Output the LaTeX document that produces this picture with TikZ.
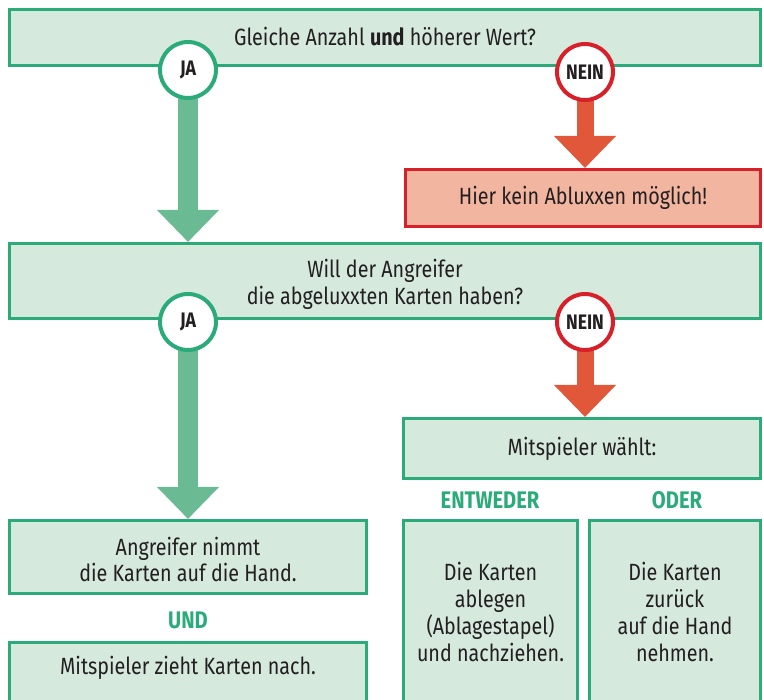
\documentclass[tikz,border=0pt]{standalone}
\usepackage{fontspec}
\setmainfont{Fira Sans}[FakeStretch=0.84]
\usetikzlibrary{arrows.meta}
\definecolor{boxfill}{HTML}{D5E9DD}
\definecolor{gborder}{HTML}{2BAA7A}
\definecolor{garrow}{HTML}{6ABB94}
\definecolor{rborder}{HTML}{D7202A}
\definecolor{rarrow}{HTML}{E0573A}
\definecolor{rfill}{HTML}{F2B5A0}
\definecolor{ink}{HTML}{231F20}
\begin{document}
\begin{tikzpicture}[x=1pt,y=-1pt,
  gbox/.style={draw=gborder,fill=boxfill,line width=3pt,inner sep=0pt,align=center,text=ink,font=\fontsize{23.5}{26.7}\selectfont},
  rbox/.style={draw=rborder,fill=rfill,line width=3pt,inner sep=0pt,align=center,text=ink,font=\fontsize{23.5}{26.7}\selectfont},
  txt/.style={align=center,text=ink,font=\fontsize{23.5}{26.7}\selectfont,inner sep=0pt},
  gcirc/.style={circle,draw=gborder,fill=white,line width=4pt,minimum size=56pt,inner sep=0pt,text=ink,font=\fontsize{21}{22}\selectfont\bfseries},
  rcirc/.style={circle,draw=rborder,fill=white,line width=4pt,minimum size=56pt,inner sep=0pt,text=ink,font=\fontsize{21}{22}\selectfont\bfseries},
  glabel/.style={text=gborder,font=\fontsize{24}{26}\selectfont\bfseries,inner sep=0pt},
  garr/.style={draw=garrow,line width=20pt,-{Triangle[width=60pt,length=32pt]}},
  rarr/.style={draw=rarrow,line width=17pt,-{Triangle[width=60pt,length=32pt]}}
]
\useasboundingbox (0,0) rectangle (764,700);
\clip (0,0) rectangle (764,700);
% boxes
\node[gbox,minimum width=751pt,minimum height=56pt] (b1) at (385,37.5) {};
\node[txt] (t1) at (385,37) {Gleiche Anzahl \textbf{und} höherer Wert?};
\node[rbox,minimum width=355pt,minimum height=57pt] (r1) at (583,198) {Hier kein Abluxxen möglich!};
\node[gbox,minimum width=751pt,minimum height=75pt] (b2) at (385,281) {};
\node[txt] (t2) at (385,284) {Will der Angreifer\\die abgeluxxten Karten haben?};
\node[gbox,minimum width=357pt,minimum height=73pt] (b3) at (188,557) {};
\node[txt] (t3) at (188,559.5) {Angreifer nimmt\\die Karten auf die Hand.};
\node[glabel] (und) at (188,620) {UND};
\node[gbox,minimum width=357pt,minimum height=80pt] (b4) at (188,682.5) {};
\node[txt] (t4) at (188,668) {Mitspieler zieht Karten nach.};
\node[gbox,minimum width=357pt,minimum height=60pt] (m) at (582,448.5) {Mitspieler wählt:};
\node[glabel] (ent) at (490,500) {ENTWEDER};
\node[glabel] (oder) at (677,500) {ODER};
\node[gbox,minimum width=174pt,minimum height=200pt] (bl) at (490.5,620.5) {};
\node[gbox,minimum width=171pt,minimum height=200pt] (br) at (675,620.5) {};
\node[txt] (tl) at (490.5,612) {Die Karten\\ablegen\\(Ablagestapel)\\und nachziehen.};
\node[txt] (tr) at (675,612) {Die Karten\\zurück\\auf die Hand\\nehmen.};
% circle positions
\coordinate (cj1) at (188,70);
\coordinate (cn1) at (585,72);
\coordinate (cj2) at (188,322);
\coordinate (cn2) at (585,322);
% arrows
\draw[garr] (cj1) -- (cj1 |- b2.north);
\draw[rarr] (cn1) -- (cn1 |- r1.north);
\draw[garr] (cj2) -- (cj2 |- b3.north);
\draw[rarr] (cn2) -- (cn2 |- m.north);
% circles
\node[gcirc] (j1) at (cj1) {JA};
\node[rcirc] (n1) at (cn1) {NEIN};
\node[gcirc] (j2) at (cj2) {JA};
\node[rcirc] (n2) at (cn2) {NEIN};
\end{tikzpicture}
\end{document}
